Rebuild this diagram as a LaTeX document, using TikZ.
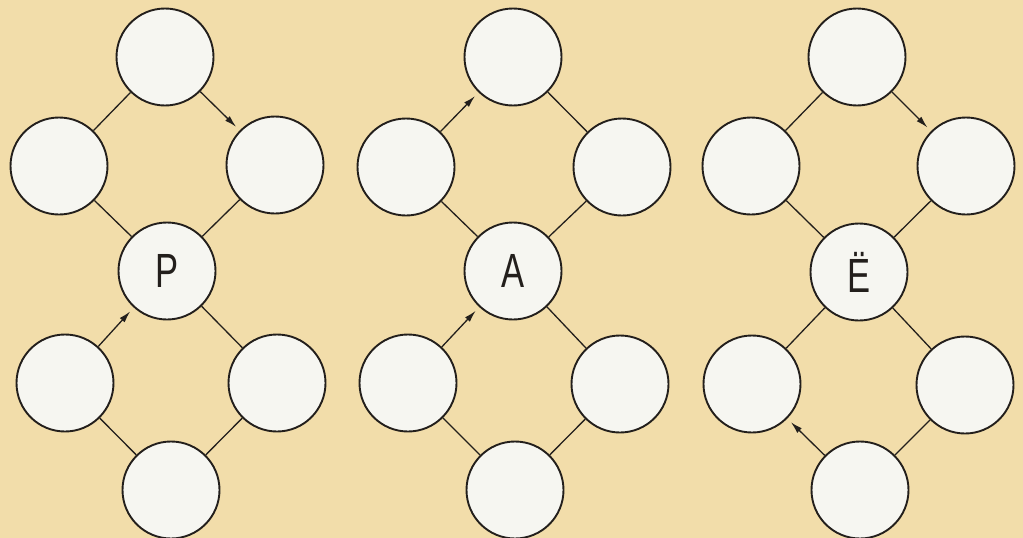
\documentclass[tikz,border=0pt]{standalone}
\usepackage{fontspec}
\newfontfamily\lettfont[FakeStretch=0.72]{Liberation Sans}
\usetikzlibrary{arrows.meta}
\definecolor{bgbeige}{RGB}{242,221,170}
\definecolor{discfill}{RGB}{246,246,241}
\definecolor{inkc}{RGB}{35,31,28}
\tikzset{
  disc/.style={circle, draw=inkc, fill=discfill, line width=1.9pt, minimum size=97pt, inner sep=0pt,
    font=\lettfont\fontsize{48}{52}\selectfont, text=inkc},
  link/.style={draw=inkc, line width=1.3pt},
  flow/.style={link, -{Latex[length=12pt,width=6.5pt]}, shorten >=5pt}
}
\begin{document}
\begin{tikzpicture}[x=1pt,y=-1pt]
\fill[bgbeige] (0,0) rectangle (1023,538);
\useasboundingbox (0,0) rectangle (1023,538);
% figure 1
\node[disc] (t1) at (165,57) {};
\node[disc] (ul1) at (59,166) {};
\node[disc] (ur1) at (275,165) {};
\node[disc] (c1) at (167,271) {P};
\node[disc] (ll1) at (65,383) {};
\node[disc] (lr1) at (277,383) {};
\node[disc] (b1) at (171,490) {};
% figure 2
\node[disc] (t2) at (513,57) {};
\node[disc] (ul2) at (406,167) {};
\node[disc] (ur2) at (622,167) {};
\node[disc] (c2) at (513,271) {A};
\node[disc] (ll2) at (408,383) {};
\node[disc] (lr2) at (620,384) {};
\node[disc] (b2) at (515,490) {};
% figure 3
\node[disc] (t3) at (857,57) {};
\node[disc] (ul3) at (751,166) {};
\node[disc] (ur3) at (966,166) {};
\node[disc] (c3) at (859,272) {Ё};
\node[disc] (ll3) at (752,384) {};
\node[disc] (lr3) at (965,385) {};
\node[disc] (b3) at (860,490) {};
% connectors figure 1
\draw[link] (t1) -- (ul1);
\draw[flow] (t1) -- (ur1);
\draw[link] (ul1) -- (c1);
\draw[link] (ur1) -- (c1);
\draw[flow] (ll1) -- (c1);
\draw[link] (c1) -- (lr1);
\draw[link] (ll1) -- (b1);
\draw[link] (lr1) -- (b1);
% connectors figure 2
\draw[flow] (ul2) -- (t2);
\draw[link] (t2) -- (ur2);
\draw[link] (ul2) -- (c2);
\draw[link] (ur2) -- (c2);
\draw[flow] (ll2) -- (c2);
\draw[link] (c2) -- (lr2);
\draw[link] (ll2) -- (b2);
\draw[link] (lr2) -- (b2);
% connectors figure 3
\draw[link] (t3) -- (ul3);
\draw[flow] (t3) -- (ur3);
\draw[link] (ul3) -- (c3);
\draw[link] (ur3) -- (c3);
\draw[link] (c3) -- (ll3);
\draw[link] (c3) -- (lr3);
\draw[flow] (b3) -- (ll3);
\draw[link] (lr3) -- (b3);
\end{tikzpicture}
\end{document}
